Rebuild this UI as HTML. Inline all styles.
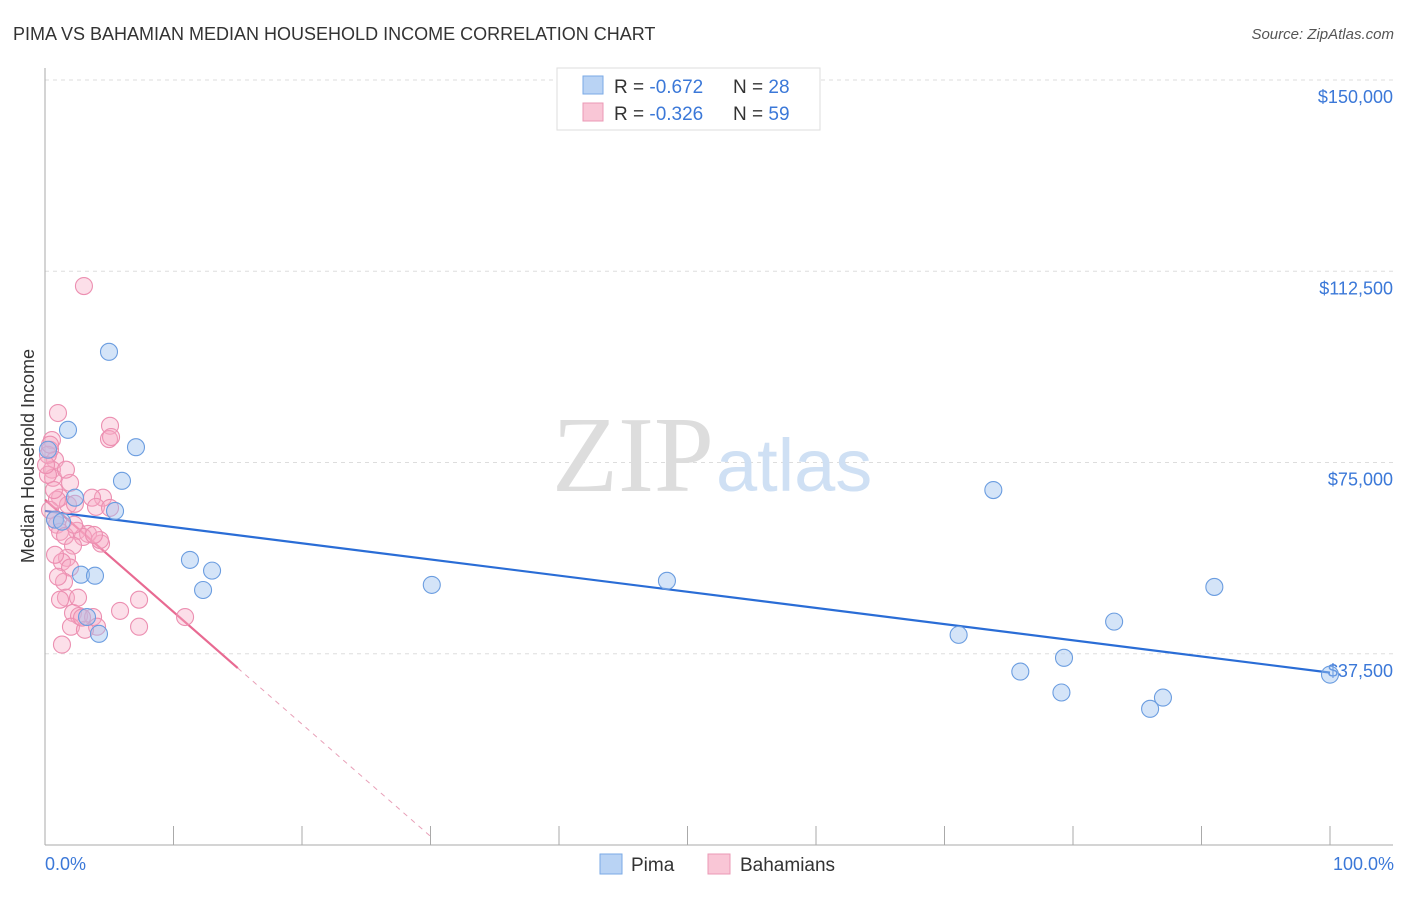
<!DOCTYPE html>
<html><head><meta charset="utf-8"><style>
body{margin:0;background:#fff;font-family:"Liberation Sans",sans-serif;}
</style></head><body>
<svg width="1406" height="892" viewBox="0 0 1406 892" xmlns="http://www.w3.org/2000/svg">
<text x="13" y="40" font-size="18" fill="#333">PIMA VS BAHAMIAN MEDIAN HOUSEHOLD INCOME CORRELATION CHART</text>
<text x="1394" y="39" font-size="15" fill="#555" text-anchor="end" font-style="italic">Source: ZipAtlas.com</text>
<g id="grid"></g>
<text x="714" y="491" font-size="108" fill="#ddd" text-anchor="end" font-family="Liberation Serif">ZIP</text>
<text x="716" y="491" font-size="74" fill="#cfe0f4">atlas</text>
<g id="trends"></g>
<g id="pts"></g>
<text transform="translate(34,456) rotate(-90)" font-size="18" fill="#333" text-anchor="middle">Median Household Income</text>
<text x="45" y="870" font-size="18" fill="#3b78d8">0.0%</text>
<text x="1394" y="870" font-size="18" fill="#3b78d8" text-anchor="end">100.0%</text>
<g>
<rect x="557" y="68" width="263" height="62" fill="#fff" stroke="#ddd"/>
<rect x="583" y="76" width="20" height="18" fill="#b9d3f4" stroke="#7aaae6"/>
<rect x="583" y="103" width="20" height="18" fill="#f9c6d6" stroke="#eb98b5"/>
<text x="614" y="93" font-size="19" fill="#333">R = <tspan fill="#3b78d8">-0.672</tspan><tspan x="733">N = </tspan><tspan fill="#3b78d8">28</tspan></text>
<text x="614" y="120" font-size="19" fill="#333">R = <tspan fill="#3b78d8">-0.326</tspan><tspan x="733">N = </tspan><tspan fill="#3b78d8">59</tspan></text>
</g>
<g>
<rect x="600" y="854" width="22" height="20" fill="#b9d3f4" stroke="#7aaae6"/>
<text x="631" y="871" font-size="19" fill="#333">Pima</text>
<rect x="708" y="854" width="22" height="20" fill="#f9c6d6" stroke="#eb98b5"/>
<text x="740" y="871" font-size="19" fill="#333">Bahamians</text>
</g>
</svg>
<script>
const yTicks=[150000,112500,75000,37500];
const yTickLabels=["$150,000","$112,500","$75,000","$37,500"];
const pimaX=[4.98,1.79,7.08,5.99,5.45,0.78,2.33,11.28,13.0,12.3,2.8,3.89,3.27,4.2,30.1,48.4,73.8,71.1,75.9,79.3,79.1,83.2,86.0,87.0,91.0,100,0.23,1.32];
const pimaY=[96.7,81.4,78.0,71.4,65.5,63.8,68.1,55.9,53.8,50.0,53.0,52.8,44.7,41.4,51.0,51.8,69.6,41.2,34.0,36.7,29.9,43.8,26.7,28.9,50.6,33.4,77.5,63.4];
const bahX=[3.03,1.01,5.06,4.98,5.14,0.54,0.39,0.78,0.54,0.23,0.62,1.95,1.17,4.51,3.66,1.79,0.93,2.49,3.35,2.96,1.17,1.56,4.36,2.18,1.71,1.32,1.95,1.48,1.01,0.39,0.78,2.33,5.84,7.32,10.9,7.32,1.63,2.18,2.65,3.74,4.05,2.02,3.11,1.32,0.78,0.93,3.97,4.28,1.17,2.57,2.88,3.81,0.23,0.70,1.63,2.26,0.39,5.06,0.08];
const bahY=[109.6,84.7,82.2,79.6,80.0,79.4,77.5,75.5,73.6,76.5,72.0,71.0,68.1,68.1,68.1,66.7,62.8,61.6,61.0,60.4,61.4,60.6,59.1,58.7,56.3,55.5,54.4,51.6,52.6,65.7,63.8,66.9,45.9,48.1,44.7,42.8,48.5,45.5,44.9,44.7,42.8,42.8,42.2,39.3,56.9,67.7,66.3,59.8,48.1,48.5,44.6,60.8,72.6,69.6,73.6,62.8,78.5,66.1,74.5];
const pimaTrend=[65.5,33.8];
const bahTrend=[67.7,-2.2];
const bahSolidEnd=15, bahDashEnd=30;
const NS="http://www.w3.org/2000/svg";
const X=p=>45+p*12.85;
const Y=v=>845-v*(765/150000);
function mk(t,a,p){const e=document.createElementNS(NS,t);for(const k in a)e.setAttribute(k,a[k]);p.appendChild(e);return e;}
const grid=document.getElementById('grid');
yTicks.forEach((v,i)=>{
 const l=mk('line',{x1:45,x2:1393,y1:Y(v),y2:Y(v),stroke:'#ddd','stroke-dasharray':'4,4'},grid);
 
 
 const t=mk('text',{x:1393,y:Y(v)+23,'font-size':18,fill:'#3b78d8','text-anchor':'end'},grid);
 t.textContent=yTickLabels[i];
 
 
});
const ax=mk('line',{x1:45,x2:45,y1:68,y2:845,stroke:'#aaa'},grid);


const bx=mk('line',{x1:45,x2:1393,y1:845,y2:845,stroke:'#aaa'},grid);


for(let i=0;i<=10;i++){const t=mk('line',{x1:X(i*10),x2:X(i*10),y1:826,y2:845,stroke:'#aaa'},grid);
 
 }
const tr=document.getElementById('trends');
const pl=mk('line',{x1:X(0),y1:Y(pimaTrend[0]*1000),x2:X(100),y2:Y(pimaTrend[1]*1000),stroke:'#2a6dd6','stroke-width':2.2},tr);


const bf=x=>Y((bahTrend[0]+bahTrend[1]*x)*1000);
const bl=mk('line',{x1:X(0),y1:bf(0),x2:X(bahSolidEnd),y2:bf(bahSolidEnd),stroke:'#e86a92','stroke-width':2.2},tr);


const bd=mk('line',{x1:X(bahSolidEnd),y1:bf(bahSolidEnd),x2:X(bahDashEnd),y2:bf(bahDashEnd),stroke:'#e8a0b8','stroke-width':1,'stroke-dasharray':'5,5'},tr);


const pts=document.getElementById('pts');
bahX.forEach((x,i)=>{const c=mk('circle',{cx:X(x),cy:Y(bahY[i]*1000),r:8.5,fill:'rgba(246,170,196,0.38)',stroke:'#ec8fb1','stroke-width':1.1},pts);
 
 });
pimaX.forEach((x,i)=>{const c=mk('circle',{cx:X(x),cy:Y(pimaY[i]*1000),r:8.5,fill:'rgba(160,196,240,0.45)',stroke:'#6b9de0','stroke-width':1.1},pts);
 
 });
</script>
</body></html>
